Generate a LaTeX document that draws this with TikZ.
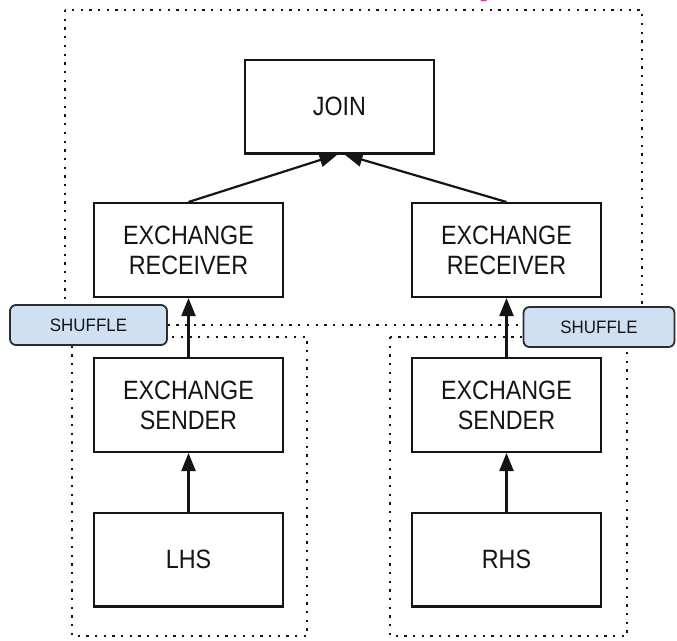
\documentclass[tikz,border=0pt]{standalone}
\usepackage{fontspec}
\setmainfont{Liberation Sans}[FakeStretch=0.88]
\newfontfamily\tagfont{Liberation Sans}[FakeStretch=0.94]
\usetikzlibrary{arrows.meta}
\definecolor{inkc}{HTML}{151515}
\definecolor{tagfill}{HTML}{CFE0F2}
\definecolor{titlepink}{HTML}{D23C9A}
\tikzset{
  opbox/.style={draw=inkc, line width=2.4pt, fill=white, minimum width=188.6pt,
    minimum height=93.6pt, inner sep=0pt, align=center, text=inkc,
    font=\fontsize{26.5}{30}\selectfont},
  tagbox/.style={draw=inkc!90, line width=1.8pt, fill=tagfill, rounded corners=6pt,
    inner sep=0pt, text=inkc, font=\tagfont\fontsize{18}{20}\selectfont},
  frame/.style={draw=inkc, line width=2.3pt, dash pattern=on 2.3pt off 6.4pt},
  flow/.style={draw=inkc, line width=2.2pt, -{Triangle[length=18pt,width=14pt]}}
}
\begin{document}
\begin{tikzpicture}[x=1pt, y=-1pt]
\useasboundingbox (0,0) rectangle (677,640);

% title text running off the top edge
\node[anchor=base, text=titlepink, font=\fontsize{26}{30}\selectfont, inner sep=0pt]
  (title) at (484,-3.5) {g};

% stage frames
\draw[frame] (65,10) rectangle (642,325);
\draw[frame] (72,337) rectangle (307,636);
\draw[frame] (390,337) rectangle (627,636);

% operators
\node[opbox] (join)  at (339.5,106.5) {JOIN};
\node[opbox] (recvL) at (188.5,250) {EXCHANGE\\RECEIVER};
\node[opbox] (recvR) at (506.5,250) {EXCHANGE\\RECEIVER};
\node[opbox] (sendL) at (188.5,405) {EXCHANGE\\SENDER};
\node[opbox] (sendR) at (506.5,405) {EXCHANGE\\SENDER};
\node[opbox] (lhs)   at (188.5,559.5) {LHS};
\node[opbox] (rhs)   at (506.5,559.5) {RHS};

% data flow
\draw[flow] (lhs.north) -- (sendL.south);
\draw[flow] (rhs.north) -- (sendR.south);
\draw[flow] (sendL.north) -- (recvL.south);
\draw[flow] (sendR.north) -- (recvR.south);
\draw[flow] (recvL.north) -- ([xshift=-2pt]join.south);
\draw[flow] (recvR.north) -- ([xshift=5pt]join.south);

% exchange tags
\node[tagbox, minimum width=157pt, minimum height=40pt] (shufL) at (88.5,325) {SHUFFLE};
\node[tagbox, minimum width=151pt, minimum height=40pt] (shufR) at (599,327) {SHUFFLE};
\end{tikzpicture}
\end{document}
